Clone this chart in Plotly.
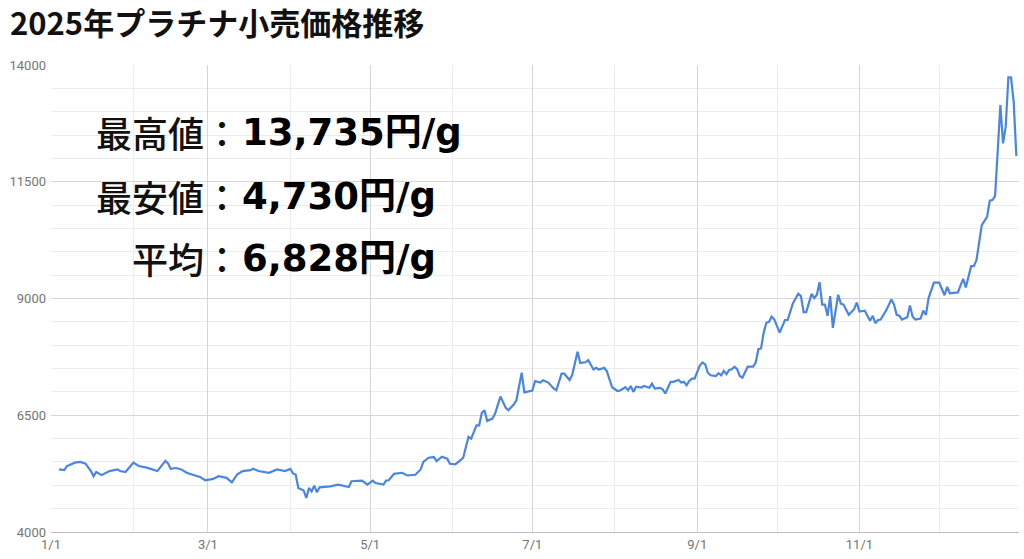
import plotly.graph_objects as go

dates = [
    "2025-01-04", "2025-01-06", "2025-01-07", "2025-01-10", "2025-01-12", "2025-01-14", "2025-01-16", "2025-01-17",
    "2025-01-18", "2025-01-20", "2025-01-23", "2025-01-26", "2025-01-27", "2025-01-29", "2025-02-01", "2025-02-03",
    "2025-02-06", "2025-02-08", "2025-02-10", "2025-02-13", "2025-02-14", "2025-02-15", "2025-02-17", "2025-02-19",
    "2025-02-21", "2025-02-23", "2025-02-26", "2025-02-28", "2025-03-03", "2025-03-05", "2025-03-08", "2025-03-10",
    "2025-03-12", "2025-03-14", "2025-03-17", "2025-03-18", "2025-03-20", "2025-03-24", "2025-03-27", "2025-03-30",
    "2025-04-01", "2025-04-02", "2025-04-03", "2025-04-04", "2025-04-06", "2025-04-07", "2025-04-08", "2025-04-09",
    "2025-04-10", "2025-04-11", "2025-04-12", "2025-04-16", "2025-04-19", "2025-04-23", "2025-04-24", "2025-04-28",
    "2025-04-30", "2025-05-02", "2025-05-03", "2025-05-06", "2025-05-07", "2025-05-08", "2025-05-10", "2025-05-13",
    "2025-05-15", "2025-05-18", "2025-05-20", "2025-05-21", "2025-05-23", "2025-05-25", "2025-05-26", "2025-05-28",
    "2025-05-30", "2025-05-31", "2025-06-02", "2025-06-04", "2025-06-05", "2025-06-07", "2025-06-08", "2025-06-10",
    "2025-06-11", "2025-06-12", "2025-06-13", "2025-06-14", "2025-06-16", "2025-06-17", "2025-06-19", "2025-06-21",
    "2025-06-22", "2025-06-24", "2025-06-25", "2025-06-27", "2025-06-28", "2025-07-01", "2025-07-02", "2025-07-04",
    "2025-07-05", "2025-07-07", "2025-07-09", "2025-07-10", "2025-07-12", "2025-07-13", "2025-07-15", "2025-07-16",
    "2025-07-18", "2025-07-19", "2025-07-21", "2025-07-22", "2025-07-23", "2025-07-24", "2025-07-25", "2025-07-26",
    "2025-07-28", "2025-07-29", "2025-07-31", "2025-08-02", "2025-08-03", "2025-08-05", "2025-08-06", "2025-08-07",
    "2025-08-08", "2025-08-09", "2025-08-11", "2025-08-12", "2025-08-14", "2025-08-15", "2025-08-16", "2025-08-18",
    "2025-08-19", "2025-08-20", "2025-08-22", "2025-08-23", "2025-08-25", "2025-08-26", "2025-08-27", "2025-08-28",
    "2025-08-29", "2025-08-30", "2025-08-31", "2025-09-02", "2025-09-03", "2025-09-04", "2025-09-05", "2025-09-06",
    "2025-09-08", "2025-09-09", "2025-09-10", "2025-09-11", "2025-09-12", "2025-09-13", "2025-09-14", "2025-09-15",
    "2025-09-16", "2025-09-17", "2025-09-18", "2025-09-20", "2025-09-22", "2025-09-23", "2025-09-24", "2025-09-25",
    "2025-09-26", "2025-09-27", "2025-09-28", "2025-09-29", "2025-09-30", "2025-10-02", "2025-10-04", "2025-10-05",
    "2025-10-06", "2025-10-07", "2025-10-09", "2025-10-10", "2025-10-11", "2025-10-12", "2025-10-14", "2025-10-15",
    "2025-10-16", "2025-10-17", "2025-10-18", "2025-10-19", "2025-10-20", "2025-10-21", "2025-10-22", "2025-10-23",
    "2025-10-24", "2025-10-25", "2025-10-26", "2025-10-28", "2025-10-30", "2025-10-31", "2025-11-01", "2025-11-03",
    "2025-11-05", "2025-11-06", "2025-11-07", "2025-11-08", "2025-11-09", "2025-11-10", "2025-11-11", "2025-11-13",
    "2025-11-14", "2025-11-15", "2025-11-16", "2025-11-17", "2025-11-19", "2025-11-20", "2025-11-21", "2025-11-22",
    "2025-11-24", "2025-11-25", "2025-11-26", "2025-11-27", "2025-11-29", "2025-12-01", "2025-12-03", "2025-12-04",
    "2025-12-05", "2025-12-08", "2025-12-10", "2025-12-11", "2025-12-13", "2025-12-14", "2025-12-15", "2025-12-17",
    "2025-12-19", "2025-12-20", "2025-12-21", "2025-12-22", "2025-12-24", "2025-12-25", "2025-12-26", "2025-12-27",
    "2025-12-28", "2025-12-29", "2025-12-30",
]

prices = [
    5340, 5325, 5413, 5485, 5500, 5465, 5305, 5195,
    5283, 5218, 5305, 5340, 5305, 5283, 5485, 5413,
    5377, 5340, 5305, 5522, 5470, 5355, 5370, 5340,
    5268, 5232, 5180, 5108, 5137, 5195, 5160, 5065,
    5232, 5305, 5325, 5355, 5305, 5268, 5340, 5305,
    5350, 5254, 5232, 4942, 4890, 4730, 4942, 4870,
    4993, 4850, 4957, 4978, 5015, 4964, 5087, 5101,
    5015, 5101, 5050, 5015, 5101, 5108, 5246, 5268,
    5210, 5225, 5340, 5500, 5590, 5605, 5520, 5612,
    5570, 5460, 5450, 5540, 5590, 6040, 6000, 6285,
    6285, 6550, 6607, 6380, 6430, 6535, 6900, 6657,
    6607, 6730, 6820, 7410, 6990, 7030, 7230, 7200,
    7250, 7200, 7073, 7036, 7390, 7390, 7255, 7365,
    7860, 7620, 7635, 7680, 7570, 7480, 7515, 7480,
    7515, 7445, 7100, 7020, 7030, 7100, 7036, 7125,
    7000, 7110, 7090, 7125, 7090, 7175, 7070, 7085,
    7055, 6965, 7215, 7215, 7255, 7200, 7215, 7140,
    7235, 7285, 7285, 7570, 7630, 7590, 7410, 7355,
    7340, 7400, 7355, 7450, 7380, 7470, 7486, 7540,
    7486, 7340, 7305, 7540, 7540, 7630, 7915, 7930,
    8270, 8480, 8500, 8610, 8550, 8270, 8540, 8540,
    8720, 8900, 9100, 9050, 8710, 8710, 9100, 9010,
    9080, 9350, 8870, 8870, 8630, 9050, 8370, 8720,
    9080, 8890, 8870, 8650, 8770, 8915, 8720, 8740,
    8525, 8630, 8470, 8540, 8550, 8650, 8740, 8980,
    8870, 8650, 8630, 8550, 8600, 8850, 8610, 8550,
    8570, 8740, 8650, 9010, 9340, 9340, 9070, 9250,
    9110, 9130, 9420, 9236, 9693, 9693, 9820, 10570,
    10750, 11093, 11107, 11193, 13143, 12321, 12680, 13735,
    13735, 13214, 12050,
]

x_tickvals = ["2025-01-01", "2025-03-01", "2025-05-01", "2025-07-01", "2025-09-01", "2025-11-01"]
x_ticktext = ["1/1", "3/1", "5/1", "7/1", "9/1", "11/1"]
y_tickvals = [4000, 6500, 9000, 11500, 14000]
y_ticktext = ["4000", "6500", "9000", "11500", "14000"]

title_text = "2025年プラチナ小売価格推移"
stat_labels = ["最高値：", "最安値：", "平均："]
stat_values = ["13,735円/g", "4,730円/g", "6,828円/g"]

W, H = 1024, 559
L, R, T, B = 51, 5, 65, 27
pw, ph = W - L - R, H - T - B


def px_to_paper_x(px):
    return (px - L) / pw


def py_to_paper_y(py):
    return (H - B - py) / ph


fig = go.Figure()
fig.add_trace(go.Scatter(
    x=dates, y=prices, mode="lines",
    line=dict(color="#4a86e0", width=2.2),
    hoverinfo="skip", showlegend=False,
))

row_y = [132, 196, 258]
for lab, val, yy in zip(stat_labels, stat_values, row_y):
    fig.add_annotation(
        x=px_to_paper_x(242), y=py_to_paper_y(yy), xref="paper", yref="paper",
        text=lab, showarrow=False, xanchor="right", yanchor="middle",
        font=dict(family="Noto Sans CJK JP", size=36, color="#111111", weight=500),
    )
    fig.add_annotation(
        x=px_to_paper_x(240), y=py_to_paper_y(yy), xref="paper", yref="paper",
        text="<b>" + val + "</b>", showarrow=False, xanchor="left", yanchor="middle",
        font=dict(family="DejaVu Sans, Noto Sans CJK JP", size=37, color="#000000"),
    )

fig.update_layout(
    width=W, height=H,
    margin=dict(l=L, r=R, t=T, b=B, pad=0, autoexpand=False),
    paper_bgcolor="white", plot_bgcolor="white",
    title=dict(
        text="<b>" + title_text + "</b>",
        x=10 / W, xanchor="left", xref="container",
        y=1 - 24 / H, yanchor="middle", yref="container",
        font=dict(family="Noto Sans CJK JP", size=31, color="#111111"),
    ),
    xaxis=dict(
        type="date", range=["2025-01-01", "2025-12-31"],
        tickmode="array", tickvals=x_tickvals, ticktext=x_ticktext,
        showgrid=True, gridcolor="#d6d6d6", gridwidth=1,
        minor=dict(dtick="M1", tick0="2025-01-01", showgrid=True, gridcolor="#ececec", gridwidth=1),
        showline=True, linecolor="#bdbdbd", linewidth=1,
        ticks="", zeroline=False, automargin=False,
        tickfont=dict(family="Roboto", size=13, color="#757575"),
    ),
    yaxis=dict(
        range=[4000, 14000],
        tickmode="array", tickvals=y_tickvals, ticktext=y_ticktext,
        showgrid=True, gridcolor="#d6d6d6", gridwidth=1,
        minor=dict(dtick=500, tick0=4000, showgrid=True, gridcolor="#ececec", gridwidth=1),
        showline=False, zeroline=False, ticks="", automargin=False,
        ticklabelstandoff=4,
        tickfont=dict(family="Roboto", size=13, color="#757575"),
    ),
)

fig.write_html(
    "out.html",
    config={"displayModeBar": False, "staticPlot": True},
    post_script="document.body.style.margin='0';document.body.style.padding='0';document.body.style.overflow='hidden';",
)
